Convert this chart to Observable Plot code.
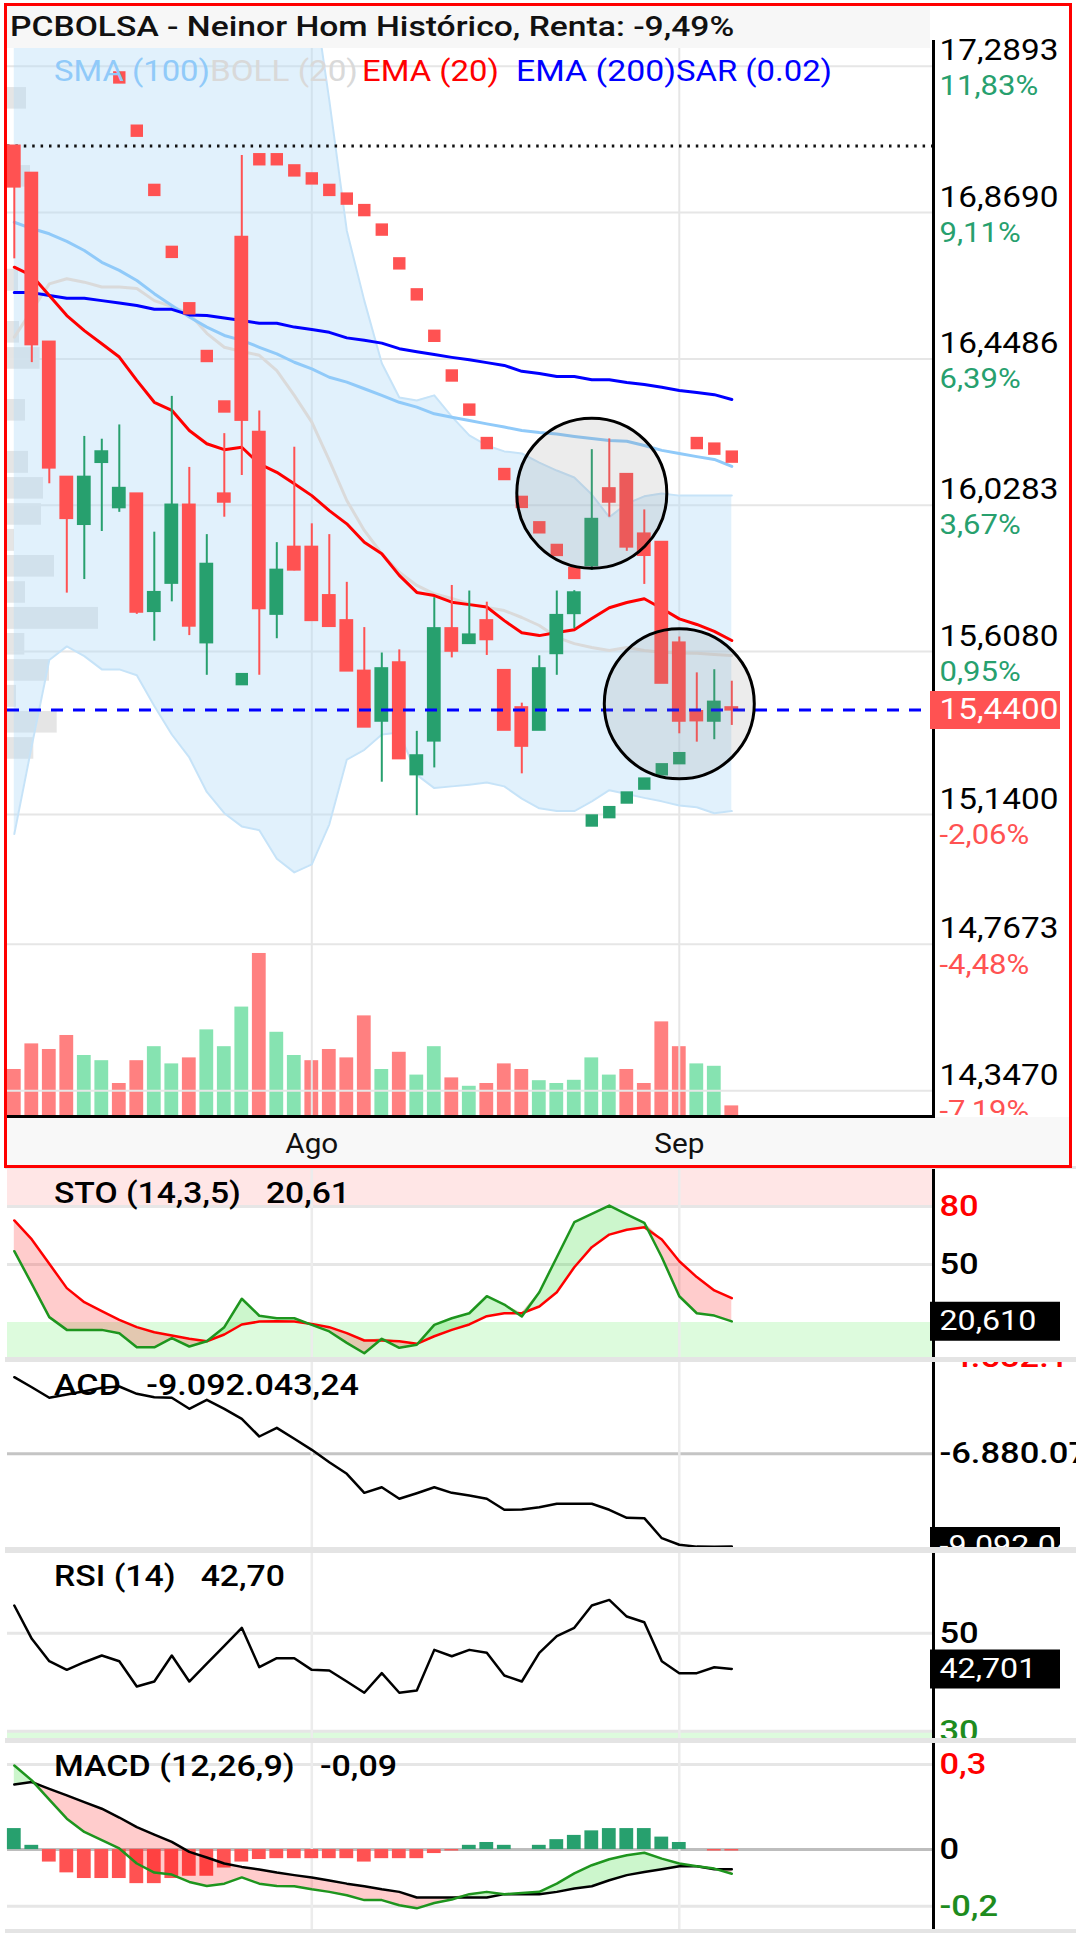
<!DOCTYPE html>
<html><head><meta charset="utf-8">
<script src="https://cdn.jsdelivr.net/npm/d3@7"></script>
<script src="https://cdn.jsdelivr.net/npm/@observablehq/plot@0.6"></script>
<style>
body{margin:0;background:#fff;}
#page{position:relative;width:1076px;height:1936px;overflow:hidden;background:#fff;font-family:Roboto,sans-serif;}
.lbl{position:absolute;white-space:pre;line-height:1;transform-origin:0 0;font-family:Roboto,sans-serif;}
</style></head>
<body><div id="page"></div>
<script>
// ---------------- DATA ----------------
const dates = ["2025-07-09","2025-07-10","2025-07-11","2025-07-14","2025-07-15","2025-07-16","2025-07-17","2025-07-18","2025-07-21","2025-07-22","2025-07-23","2025-07-24","2025-07-25","2025-07-28","2025-07-29","2025-07-30","2025-07-31","2025-08-01","2025-08-04","2025-08-05","2025-08-06","2025-08-07","2025-08-08","2025-08-11","2025-08-12","2025-08-13","2025-08-14","2025-08-15","2025-08-18","2025-08-19","2025-08-20","2025-08-21","2025-08-22","2025-08-25","2025-08-26","2025-08-27","2025-08-28","2025-08-29","2025-09-01","2025-09-02","2025-09-03","2025-09-04"];
const open  = [17.060,16.982,16.497,16.109,15.973,16.151,16.021,16.061,15.723,15.804,16.029,15.633,16.061,16.798,16.238,15.715,15.908,15.908,15.769,15.697,15.552,15.408,15.576,15.254,15.351,15.674,15.631,15.697,15.554,15.447,15.382,15.602,15.717,15.855,16.076,16.117,15.946,15.922,15.633,15.436,15.408,15.447];
const high  = [17.060,16.982,16.497,16.109,16.226,16.218,16.259,16.061,15.951,16.341,16.137,15.944,16.234,17.033,16.299,15.921,16.195,15.975,15.944,15.807,15.677,15.604,15.613,15.379,15.763,15.798,15.782,15.750,15.554,15.460,15.596,15.782,15.783,16.188,16.219,16.117,16.015,15.922,15.650,15.547,15.556,15.523];
const low   = [16.736,16.438,16.090,15.776,15.815,15.953,16.008,15.715,15.638,15.751,15.654,15.540,15.994,16.114,15.540,15.645,15.840,15.697,15.680,15.552,15.391,15.233,15.300,15.137,15.274,15.590,15.631,15.597,15.382,15.257,15.382,15.540,15.674,15.841,15.994,15.896,15.801,15.517,15.372,15.348,15.355,15.396];
const close = [16.942,16.489,16.135,15.990,16.109,16.182,16.077,15.721,15.778,16.029,15.681,15.859,16.037,16.272,15.731,15.842,15.842,15.697,15.680,15.552,15.391,15.559,15.300,15.309,15.674,15.609,15.656,15.642,15.382,15.336,15.559,15.712,15.777,15.988,16.037,15.908,15.884,15.517,15.408,15.409,15.463,15.440];
const volume = [115,179,165,200,150,137,80,137,172,129,144,214,172,271,405,208,150,137,165,144,249,115,158,101,172,94,73,80,129,115,87,80,88,144,101,115,80,234,172,129,123,24];
const sma100 = [16.841,16.823,16.808,16.786,16.760,16.726,16.703,16.674,16.636,16.602,16.569,16.540,16.516,16.502,16.482,16.463,16.439,16.420,16.396,16.382,16.363,16.344,16.324,16.310,16.291,16.281,16.272,16.262,16.253,16.243,16.237,16.233,16.226,16.220,16.214,16.212,16.200,16.186,16.177,16.168,16.160,16.140];
const ema200 = [16.639,16.639,16.631,16.623,16.623,16.616,16.609,16.602,16.591,16.591,16.575,16.573,16.566,16.559,16.551,16.551,16.540,16.533,16.525,16.509,16.502,16.494,16.478,16.469,16.461,16.453,16.446,16.438,16.430,16.413,16.407,16.398,16.398,16.389,16.389,16.381,16.375,16.367,16.358,16.352,16.346,16.332];
const ema20 = [16.712,16.688,16.631,16.573,16.530,16.492,16.454,16.387,16.324,16.301,16.243,16.205,16.188,16.195,16.147,16.123,16.090,16.056,16.013,15.975,15.922,15.889,15.827,15.778,15.769,15.750,15.743,15.736,15.697,15.662,15.654,15.663,15.671,15.703,15.734,15.749,15.760,15.732,15.702,15.686,15.666,15.640];
const bollUpper = [17.938,17.837,17.745,17.734,17.742,17.754,17.754,17.768,17.780,17.828,17.854,17.837,17.820,17.834,17.823,17.817,17.714,17.538,17.191,16.817,16.616,16.436,16.338,16.329,16.344,16.283,16.229,16.200,16.183,16.177,16.151,16.128,16.108,16.059,15.994,16.033,16.054,16.062,16.056,16.056,16.056,16.056];
const bollMiddle = [16.511,16.588,16.664,16.679,16.669,16.655,16.655,16.651,16.616,16.599,16.579,16.522,16.482,16.470,16.459,16.415,16.344,16.267,16.157,16.042,15.956,15.889,15.836,15.798,15.774,15.761,15.745,15.735,15.726,15.706,15.683,15.649,15.631,15.620,15.611,15.620,15.611,15.606,15.604,15.603,15.600,15.597];
const bollLower = [15.084,15.338,15.584,15.623,15.595,15.557,15.557,15.540,15.452,15.370,15.304,15.205,15.144,15.106,15.095,15.013,14.974,14.997,15.112,15.298,15.326,15.370,15.376,15.254,15.216,15.221,15.226,15.232,15.221,15.186,15.158,15.150,15.150,15.178,15.210,15.199,15.188,15.178,15.166,15.161,15.144,15.150];
const sar = [null,null,null,null,null,null,17.257,17.104,16.934,16.756,16.594,16.457,16.312,15.529,17.022,17.022,16.990,16.967,16.934,16.909,16.876,16.820,16.723,16.634,16.515,16.401,16.303,16.207,16.118,16.038,15.965,15.900,15.834,15.123,15.147,15.189,15.229,15.270,15.302,16.207,16.191,16.168];
const stoK = [56.9,40.0,22.8,16.2,16.2,16.2,14.5,7.2,7.2,11.9,7.6,10.3,17.6,32.3,23.5,22.2,22.2,18.8,15.4,9.5,4.1,11.6,6.9,8.5,18.8,22.2,24.8,33.6,29.3,23.1,35.7,53.8,71.9,76.2,80.5,76.0,71.6,53.8,33.6,24.8,23.6,20.61];
const stoD = [72.8,63.0,50.4,37.8,30.5,25.9,21.4,17.6,15.0,13.3,11.6,10.3,13.8,19.0,20.5,20.7,20.5,19.3,17.6,14.5,10.7,10.7,10.3,9.0,12.9,16.2,19.0,23.3,24.8,24.8,28.3,35.7,48.6,59.0,65.5,68.0,69.3,63.0,51.7,43.5,36.6,32.6];
const acdMillions = [-5.052,-5.291,-5.543,-5.465,-5.386,-5.305,-5.274,-5.448,-5.529,-5.543,-5.806,-5.591,-5.806,-6.045,-6.467,-6.260,-6.522,-6.785,-7.080,-7.357,-7.811,-7.677,-7.954,-7.820,-7.677,-7.811,-7.875,-7.954,-8.216,-8.208,-8.154,-8.073,-8.073,-8.073,-8.216,-8.407,-8.415,-8.894,-9.050,-9.095,-9.100,-9.092];
const rsi14 = [55.65,48.86,44.29,42.52,44.08,45.45,44.29,39.12,40.14,45.45,40.14,43.78,47.42,51.10,43.06,44.90,44.90,42.52,42.39,40.14,37.84,41.84,37.84,38.30,46.60,45.30,46.60,46.00,41.37,40.14,46.00,49.39,51.10,55.65,56.80,53.40,52.24,44.29,41.84,41.84,43.06,42.701];
const macdLine = [0.296,0.244,0.176,0.109,0.062,0.033,0.004,-0.049,-0.081,-0.088,-0.114,-0.128,-0.120,-0.098,-0.120,-0.128,-0.129,-0.140,-0.149,-0.161,-0.178,-0.178,-0.196,-0.207,-0.188,-0.176,-0.157,-0.149,-0.157,-0.153,-0.149,-0.120,-0.084,-0.055,-0.034,-0.020,-0.011,-0.032,-0.049,-0.059,-0.067,-0.085];
const macdSignal = [0.229,0.238,0.214,0.191,0.167,0.144,0.113,0.079,0.053,0.027,-0.008,-0.028,-0.049,-0.061,-0.070,-0.081,-0.090,-0.098,-0.109,-0.120,-0.129,-0.140,-0.149,-0.169,-0.169,-0.169,-0.169,-0.169,-0.157,-0.157,-0.157,-0.149,-0.137,-0.129,-0.108,-0.090,-0.079,-0.069,-0.059,-0.059,-0.069,-0.069];
const macdHist = [0.074,0.015,-0.044,-0.082,-0.102,-0.102,-0.102,-0.120,-0.120,-0.102,-0.094,-0.094,-0.065,-0.044,-0.035,-0.032,-0.032,-0.032,-0.032,-0.032,-0.044,-0.032,-0.032,-0.032,-0.014,-0.005,0.015,0.025,0.015,0,0.015,0.035,0.050,0.066,0.074,0.074,0.074,0.044,0.025,0,-0.005,-0.005];
// volume-at-price profile (left side)
const profileHigh = [17.228,17.004,16.706,16.556,16.481,16.332,16.183,16.108,16.033,15.959,15.884,15.809,15.735,15.660,15.585,15.511,15.436,15.361];
const profileLow  = [17.166,16.942,16.643,16.494,16.419,16.270,16.120,16.046,15.971,15.896,15.822,15.747,15.672,15.598,15.523,15.448,15.374,15.299];
const profileVolume = [190,230,110,120,326,180,210,360,340,70,470,180,910,173,420,90,497,263];
// axis ticks & labels
const priceTicks = [17.2893,16.8690,16.4486,16.0283,15.6080,15.1400,14.7673,14.3470];
const pctLabels = ["11,83%","9,11%","6,39%","3,67%","0,95%","-2,06%","-4,48%","-7,19%"];
const monthStarts = ["2025-08-01","2025-09-01"];
const monthNames = ["Ago","Sep"];
const stoTicks = [80,50];
const stoTickLabels = ["80","50"];
const acdTicks = [-4.582,-6.880];
const acdTickLabels = ["-4.582.1","-6.880.079"];
const rsiTicks = [50,30];
const macdTicks = [0.3,0,-0.2];
const macdTickLabels = ["0,3","0","-0,2"];
// highlighted zones (circles)
const highlightIdx = [33,38];
const highlightPrice = [16.063,15.458];

// ---------------- BUILD ----------------
const UP = "#27a06e", DOWN = "#ff5252";
const bars = dates.map((date, i) => ({
  i, date, open: open[i], high: high[i], low: low[i], close: close[i], volume: volume[i],
  sma: sma100[i], ema20: ema20[i], ema200: ema200[i], bbUp: bollUpper[i], bbMid: bollMiddle[i], bbLo: bollLower[i],
  sar: sar[i], k: stoK[i], d: stoD[i], acd: acdMillions[i], rsi: rsi14[i], macd: macdLine[i], sig: macdSignal[i], hist: macdHist[i],
  volUp: i === 0 ? close[i] >= open[i] : close[i] >= close[i - 1]
}));
const sarRows = bars.filter(d => d.sar != null);
const monthRows = monthStarts.map((m, j) => ({i: dates.indexOf(m), label: monthNames[j]}));
const monthIdx = monthRows.map(d => d.i);
const profile = profileVolume.map((v, j) => ({vol: v, hi: profileHigh[j], lo: profileLow[j]}));
const highlights = highlightIdx.map((i, j) => ({i, p: highlightPrice[j]}));
const last = bars[bars.length - 1];
const fmt4 = v => d3.format(".4f")(v).replace(".", ",");
const fmt3 = v => d3.format(".3f")(v).replace(".", ",");

const page = document.getElementById("page");
function box(css) { const d = document.createElement("div"); d.style.position = "absolute"; Object.assign(d.style, css); page.appendChild(d); return d; }
function place(svg, left, top, w, h) { const d = box({left: left + "px", top: top + "px", width: w + "px", height: h + "px", overflow: "hidden"}); d.appendChild(svg); return svg; }
function stretch(svg, f) {
  for (const t of svg.querySelectorAll("text")) {
    const len = t.getComputedTextLength();
    if (len > 0) { t.setAttribute("textLength", (len * f).toFixed(1)); t.setAttribute("lengthAdjust", "spacingAndGlyphs"); }
  }
}
function label(text, left, baseline, size, weight, color, target) {
  const s = document.createElement("div");
  s.className = "lbl"; s.textContent = text;
  Object.assign(s.style, {left: left + "px", top: (baseline - 0.842 * size) + "px", fontSize: size + "px", fontWeight: weight, color});
  page.appendChild(s);
  const w = s.getBoundingClientRect().width;
  if (target && w > 0) s.style.transform = `scaleX(${(target / w).toFixed(3)})`;
}
const STYLE = {background: "none", fontFamily: "Roboto, sans-serif"};
const XD = [-0.3886, 52.526];
const X = {domain: XD, axis: null};
const M = {width: 1076, marginLeft: 7, marginRight: 143};
const PRICE_DOMAIN = [14.2758, 17.4607];

// chrome: x-axis strip
box({left: "7px", top: "1117px", width: "1062px", height: "48px", background: "#f8f8f8"});

// volume bars
place(Plot.plot({...M, height: 1165, marginTop: 6, marginBottom: 50, x: X, y: {domain: [0, 2772], axis: null},
  color: {type: "identity"}, style: STYLE,
  marks: [Plot.rect(bars, {x1: d => d.i - 0.5, x2: d => d.i + 0.5, y1: 0, y2: "volume", fill: d => d.volUp ? "#86e3b1" : "#ff8080", insetLeft: 1.85, insetRight: 1.85})]
}), 0, 0, 1076, 1165);

// volume profile
place(Plot.plot({...M, height: 1165, marginTop: 6, marginBottom: 50, x: {domain: [0, 9260], axis: null}, y: {domain: PRICE_DOMAIN, axis: null},
  style: STYLE,
  marks: [Plot.rect(profile, {x1: 0, x2: "vol", y1: "lo", y2: "hi", fill: "#cfcfcf", fillOpacity: 0.55})]
}), 0, 0, 1076, 1165);

// main price chart
const mainSvg = place(Plot.plot({...M, height: 1165, marginTop: 6, marginBottom: 50, x: X, y: {domain: PRICE_DOMAIN, axis: null},
  color: {type: "identity"}, style: STYLE,
  marks: [
    Plot.ruleY(priceTicks, {stroke: "#e6e6e6", strokeWidth: 2}),
    Plot.ruleX(monthIdx, {stroke: "#e6e6e6", strokeWidth: 2}),
    Plot.areaY(bars, {x: "i", y1: "bbLo", y2: "bbUp", fill: "#b3dcf7", fillOpacity: 0.4, clip: true}),
    Plot.line(bars, {x: "i", y: "bbUp", stroke: "#c6e3f8", strokeWidth: 2, clip: true}),
    Plot.line(bars, {x: "i", y: "bbLo", stroke: "#c6e3f8", strokeWidth: 2, clip: true}),
    Plot.line(bars, {x: "i", y: "bbMid", stroke: "#dadada", strokeWidth: 3, clip: true}),
    Plot.line(bars, {x: "i", y: "sma", stroke: "#90caf9", strokeWidth: 3}),
    Plot.line(bars, {x: "i", y: "ema200", stroke: "#0000ff", strokeWidth: 3}),
    Plot.line(bars, {x: "i", y: "ema20", stroke: "#ff0000", strokeWidth: 3}),
    Plot.ruleY([d3.max(high)], {stroke: "#111", strokeWidth: 3, strokeDasharray: "2.5,5.9"}),
    Plot.ruleX(bars, {x: "i", y1: "low", y2: "high", stroke: d => d.close >= d.open ? UP : DOWN, strokeWidth: 2}),
    Plot.rect(bars, {x1: d => d.i - 0.5, x2: d => d.i + 0.5, y1: "open", y2: "close", fill: d => d.close >= d.open ? UP : DOWN,
      insetLeft: 1.85, insetRight: 1.85, insetTop: -1, insetBottom: -1}),
    Plot.dot(sarRows, {x: "i", y: "sar", symbol: "square", r: 7, fill: d => d.sar < d.close ? UP : DOWN}),
    Plot.ruleY([last.close], {stroke: "#0000ff", strokeWidth: 3, strokeDasharray: "12,10"}),
    Plot.dot(highlights, {x: "i", y: "p", r: 75, fill: "#8a8a8a", fillOpacity: 0.16, stroke: "#000", strokeWidth: 3}),
    Plot.text(monthRows, {x: "i", text: "label", frameAnchor: "bottom", dy: 29, lineAnchor: "middle", fontSize: 27, fill: "#111"})
  ]
}), 0, 0, 1076, 1165);
stretch(mainSvg, 1.1);

// indicator panels
function panel(top, h, domain, marks) {
  return place(Plot.plot({...M, height: h, marginTop: 0, marginBottom: 0, x: X, y: {domain, axis: null},
    color: {type: "identity"}, style: STYLE, marks}), 0, top, 1076, h);
}
const vgrid = Plot.ruleX(monthIdx, {stroke: "#ececec", strokeWidth: 2.5});
// STO
panel(1169, 188, [1.91, 99.17], [
  Plot.rect([0], {x1: XD[0], x2: XD[1], y1: stoTicks[0], y2: 100, fill: "#ffe6e6", clip: true}),
  Plot.rect([0], {x1: XD[0], x2: XD[1], y1: 0, y2: 100 - stoTicks[0], fill: "#ddfbdd", clip: true}),
  Plot.ruleY(stoTicks, {stroke: "#e6e6e6", strokeWidth: 3}),
  vgrid,
  Plot.areaY(bars, {x: "i", y1: "d", y2: d => Math.max(d.k, d.d), fill: "#00d000", fillOpacity: 0.2}),
  Plot.areaY(bars, {x: "i", y1: "k", y2: d => Math.max(d.k, d.d), fill: "#ff0000", fillOpacity: 0.2}),
  Plot.line(bars, {x: "i", y: "d", stroke: "#ff0000", strokeWidth: 2.5}),
  Plot.line(bars, {x: "i", y: "k", stroke: "#1e951e", strokeWidth: 2.5})
]);
// ACD
panel(1362, 185, [-9.116, -4.701], [
  Plot.ruleY([acdTicks[1]], {stroke: "#c4c4c4", strokeWidth: 3}),
  vgrid,
  Plot.line(bars, {x: "i", y: "acd", stroke: "#000", strokeWidth: 2.5})
]);
// RSI
panel(1553, 185, [28.51, 66.27], [
  Plot.rect([0], {x1: XD[0], x2: XD[1], y1: 0, y2: rsiTicks[1], fill: "#ddfbdd", clip: true}),
  Plot.ruleY(rsiTicks, {stroke: "#e6e6e6", strokeWidth: 3}),
  vgrid,
  Plot.line(bars, {x: "i", y: "rsi", stroke: "#000", strokeWidth: 2.5})
]);
// MACD
panel(1743, 186, [-0.2816, 0.3738], [
  Plot.ruleY([macdTicks[0], macdTicks[2]], {stroke: "#e6e6e6", strokeWidth: 3}),
  Plot.ruleY([macdTicks[1]], {stroke: "#bdbdbd", strokeWidth: 3}),
  vgrid,
  Plot.rect(bars, {x1: d => d.i - 0.5, x2: d => d.i + 0.5, y1: 0, y2: "hist", fill: d => d.hist >= 0 ? UP : DOWN, insetLeft: 1.85, insetRight: 1.85}),
  Plot.areaY(bars, {x: "i", y1: "sig", y2: d => Math.max(d.macd, d.sig), fill: "#00d000", fillOpacity: 0.2}),
  Plot.areaY(bars, {x: "i", y1: "macd", y2: d => Math.max(d.macd, d.sig), fill: "#ff0000", fillOpacity: 0.2}),
  Plot.line(bars, {x: "i", y: "sig", stroke: "#000", strokeWidth: 2.5}),
  Plot.line(bars, {x: "i", y: "macd", stroke: "#1e951e", strokeWidth: 2.5})
]);

// separators and axis lines
for (const [t, h] of [[1166, 3], [1357, 5], [1547, 6], [1738, 5], [1929, 4]]) box({left: "5px", top: t + "px", width: "1071px", height: h + "px", background: "#e4e4e4"});
box({left: "7px", top: "1115px", width: "928px", height: "3px", background: "#000"});
for (const [t, h] of [[40, 1078], [1169, 188], [1362, 185], [1553, 185], [1743, 186]]) box({left: "932px", top: t + "px", width: "3px", height: h + "px", background: "#000"});

// right axes
function axisPlot(top, h, domain, marks) {
  const svg = place(Plot.plot({width: 146, height: h, margin: 0, y: {domain, axis: null}, color: {type: "identity"}, style: STYLE, marks}), 930, top, 146, h);
  stretch(svg, 1.15);
}
const A = {frameAnchor: "left", dx: 9};
axisPlot(6, 1109, PRICE_DOMAIN, [
  Plot.ruleY([last.close], {stroke: DOWN, strokeWidth: 38, insetRight: 16}),
  Plot.text(priceTicks, {...A, y: d => d, text: d => fmt4(d), lineAnchor: "bottom", dy: -6, fontSize: 29, fill: "#000"}),
  Plot.text(priceTicks, {...A, y: d => d, text: (d, i) => pctLabels[i], lineAnchor: "top", dy: 10, fontSize: 27, fill: (d, i) => pctLabels[i].startsWith("-") ? DOWN : UP}),
  Plot.text([last.close], {...A, y: d => d, text: d => fmt4(d), lineAnchor: "middle", fontSize: 29, fill: "#fff"})
]);
axisPlot(1169, 188, [1.91, 99.17], [
  Plot.ruleY([last.k], {stroke: "#000", strokeWidth: 39, insetRight: 16}),
  Plot.text(stoTicks, {...A, y: d => d, text: (d, i) => stoTickLabels[i], lineAnchor: "middle", fontSize: 30, fontWeight: 500, fill: (d, i) => i === 0 ? "#ff0000" : "#000"}),
  Plot.text([last.k], {...A, y: d => d, text: d => fmt3(d), lineAnchor: "middle", fontSize: 28, fill: "#fff"})
]);
axisPlot(1362, 185, [-9.116, -4.701], [
  Plot.ruleY([last.acd], {stroke: "#000", strokeWidth: 39, insetRight: 16}),
  Plot.text(acdTicks, {...A, y: d => d, text: (d, i) => acdTickLabels[i], lineAnchor: "middle", fontSize: 30, fontWeight: 500, fill: (d, i) => i === 0 ? "#ff0000" : "#000"}),
  Plot.text([last.acd], {...A, y: d => d, text: () => "-9.092.043", lineAnchor: "middle", fontSize: 28, fill: "#fff"})
]);
axisPlot(1553, 185, [28.51, 66.27], [
  Plot.ruleY([last.rsi], {stroke: "#000", strokeWidth: 39, insetRight: 16}),
  Plot.text(rsiTicks, {...A, y: d => d, text: d => String(d), lineAnchor: "middle", fontSize: 30, fontWeight: 500, fill: (d, i) => i === 1 ? "#1e8c1e" : "#000"}),
  Plot.text([last.rsi], {...A, y: d => d, text: d => fmt3(d), lineAnchor: "middle", fontSize: 28, fill: "#fff"})
]);
axisPlot(1743, 186, [-0.2816, 0.3738], [
  Plot.text(macdTicks, {...A, y: d => d, text: (d, i) => macdTickLabels[i], lineAnchor: "middle", fontSize: 30, fontWeight: 500, fill: (d, i) => i === 0 ? "#ff0000" : i === 2 ? "#1e8c1e" : "#000"})
]);

// red frame of the main chart, title box
box({left: "4px", top: "3px", width: "1068px", height: "1165px", border: "3px solid #ff0000", boxSizing: "border-box"});
box({left: "7px", top: "6px", width: "923px", height: "42px", background: "#f7f7f7"});

// texts
label("PCBOLSA - Neinor Hom Histórico, Renta: -9,49%", 10, 37, 27, 500, "#111", 724);
label("SMA (100)", 53.5, 81.5, 30, 400, "#90caf9", 156);
label("BOLL (20)", 209.5, 81.5, 30, 400, "#d9d9d9", 148);
label("EMA (20)", 362, 81.5, 30, 400, "#ff0000", 137);
label("EMA (200)", 516, 81.5, 30, 400, "#0000ff", 160);
label("SAR (0.02)", 676, 81.5, 30, 400, "#0000ff", 156);
label("STO (14,3,5)   20,61", 53.5, 1203, 29, 500, "#000", 296);
label("ACD   -9.092.043,24", 53.5, 1395, 29, 500, "#000", 305);
label("RSI (14)   42,70", 53.5, 1586.7, 29, 500, "#000", 231);
label("MACD (12,26,9)   -0,09", 53.5, 1776.7, 29, 500, "#000", 343);
</script></body></html>
